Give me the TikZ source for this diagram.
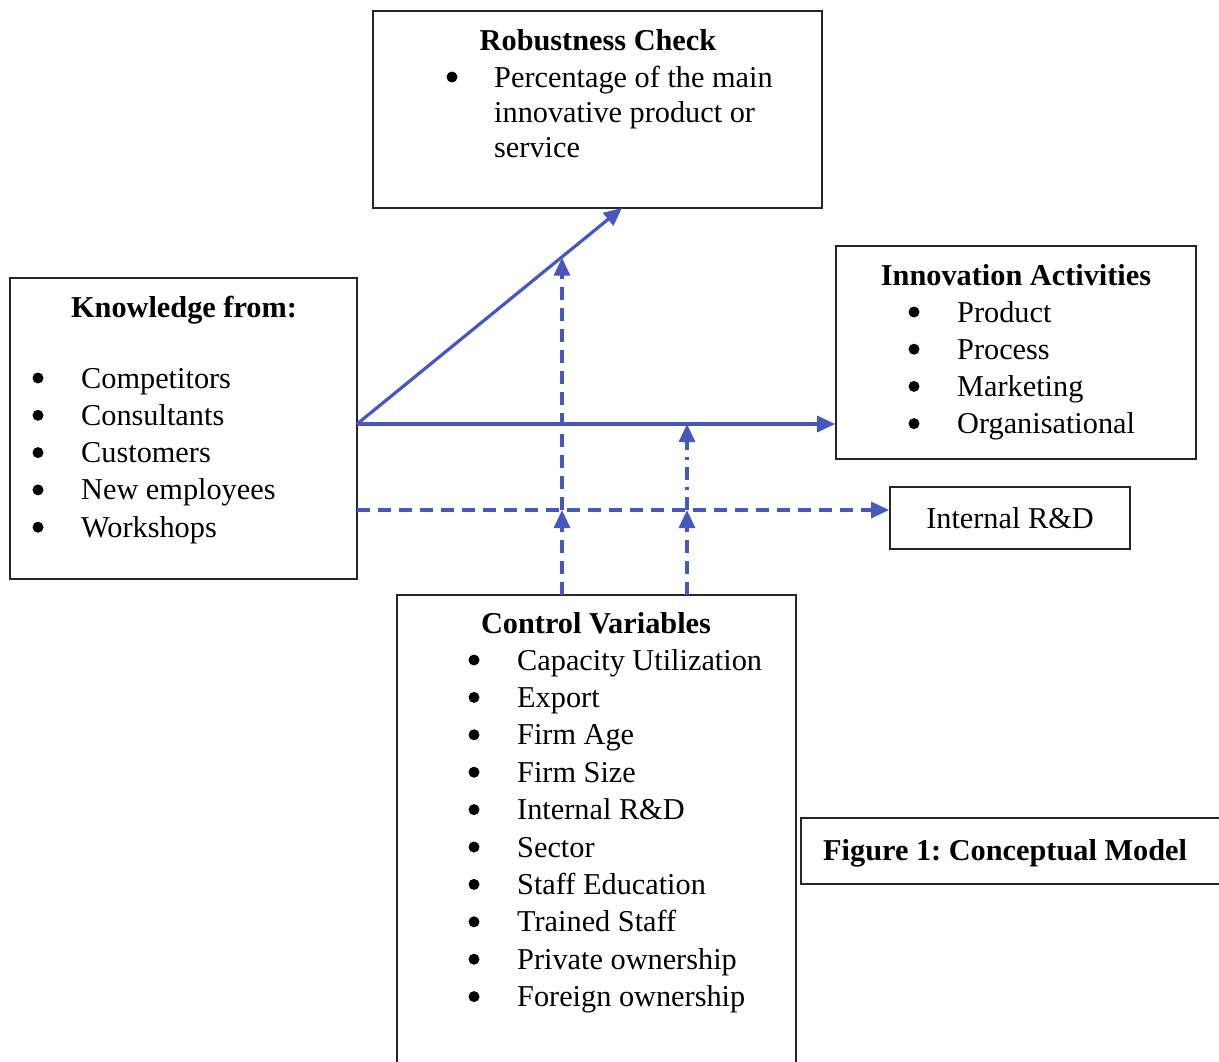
\documentclass[tikz,border=0pt]{standalone}
\usepackage{fontspec}
\setmainfont{Liberation Serif}
\usetikzlibrary{arrows.meta}
\definecolor{arrowblue}{RGB}{70,88,190}
\begin{document}
\frenchspacing
\begin{tikzpicture}[x=1pt,y=-1pt,
  box/.style={draw=black!85, line width=1.8pt, inner sep=0pt},
  txt/.style={anchor=base west, inner sep=0pt, font=\fontsize{30.3}{37.5}\selectfont},
  ttl/.style={anchor=base, inner sep=0pt, font=\fontsize{30.3}{37.5}\selectfont\bfseries},
  bul/.style={circle, fill=black, inner sep=0pt, minimum size=11pt},
  conn/.style={draw=arrowblue, line width=3.2pt, -{Triangle[length=18pt,width=16pt]}},
  dsh/.style={conn, dash pattern=on 13pt off 8pt},
  dshdot/.style={conn, dash pattern=on 13pt off 7pt on 3pt off 7pt}]
\clip (0,0) rectangle (1219,1061);
\fill[white] (0,0) rectangle (1219,1061);

% boxes
\node[box, minimum width=449pt, minimum height=197pt] (rob) at (597.5,109.5) {};
\node[box, minimum width=347pt, minimum height=301pt] (know) at (183.5,428.5) {};
\node[box, minimum width=360pt, minimum height=213pt] (inn) at (1016,352.5) {};
\node[box, minimum width=240pt, minimum height=62pt, font=\fontsize{30.3}{37.5}\selectfont] (rd) at (1010,518) {Internal R\&D};
\node[box, minimum width=399pt, minimum height=495pt] (ctrl) at (596.5,842.5) {};
\node[box, minimum width=439pt, minimum height=66pt] (fig) at (1020.5,851) {};
\node[anchor=base west, inner sep=0pt, font=\fontsize{30.3}{37.5}\selectfont\bfseries] (figt) at (823,860) {Figure 1: Conceptual Model};

% robustness text
\node[ttl] (robt) at (598,50) {Robustness Check};
\node[bul] (robb) at (452,77) {};
\node[txt] (rob1) at (494,87) {Percentage of the main};
\node[txt] (rob2) at (494,122) {innovative product or};
\node[txt] (rob3) at (494,157) {service};

% knowledge text
\node[ttl] (knowt) at (184,317) {Knowledge from:};
\foreach \t [count=\i] in {Competitors,Consultants,Customers,New employees,Workshops}{
  \node[bul] (kb\i) at (38,{378+37.3*(\i-1)}) {};
  \node[txt] (k\i) at (81,{388+37.3*(\i-1)}) {\t};
}

% innovation text
\node[ttl] (innt) at (1016,285) {Innovation Activities};
\foreach \t [count=\i] in {Product,Process,Marketing,Organisational}{
  \node[bul] (ib\i) at (914,{312+37.2*(\i-1)}) {};
  \node[txt] (i\i) at (957,{322+37.2*(\i-1)}) {\t};
}

% control text
\node[ttl] (ctrlt) at (596,633) {Control Variables};
\foreach \t [count=\i] in {Capacity Utilization,Export,Firm Age,Firm Size,Internal R\&D,Sector,Staff Education,Trained Staff,Private ownership,Foreign ownership}{
  \node[bul] (cb\i) at (474,{660+37.4*(\i-1)}) {};
  \node[txt] (c\i) at (517,{670+37.4*(\i-1)}) {\t};
}

% connector coordinates
\coordinate (s1) at (357,424);
\coordinate (s2) at (357,510);
\coordinate (rt) at (622,208);
\coordinate (v1) at (562,595);
\coordinate (v2) at (687,595);
\coordinate (m1) at (562,510);
\coordinate (m2) at (687,510);
\coordinate (t1) at (562,257.7);
\coordinate (t2) at (687,424);

% connectors
\draw[conn] (s1) -- (rt);
\draw[conn] (s1) -- (s1 -| inn.west);
\draw[dsh] (s2) -- (s2 -| rd.west);
\draw[dsh] (v1) -- (m1);
\draw[dsh] (m1) -- (t1);
\draw[dsh] (v2) -- (m2);
\draw[dshdot] (m2) -- (t2);
\end{tikzpicture}
\end{document}
